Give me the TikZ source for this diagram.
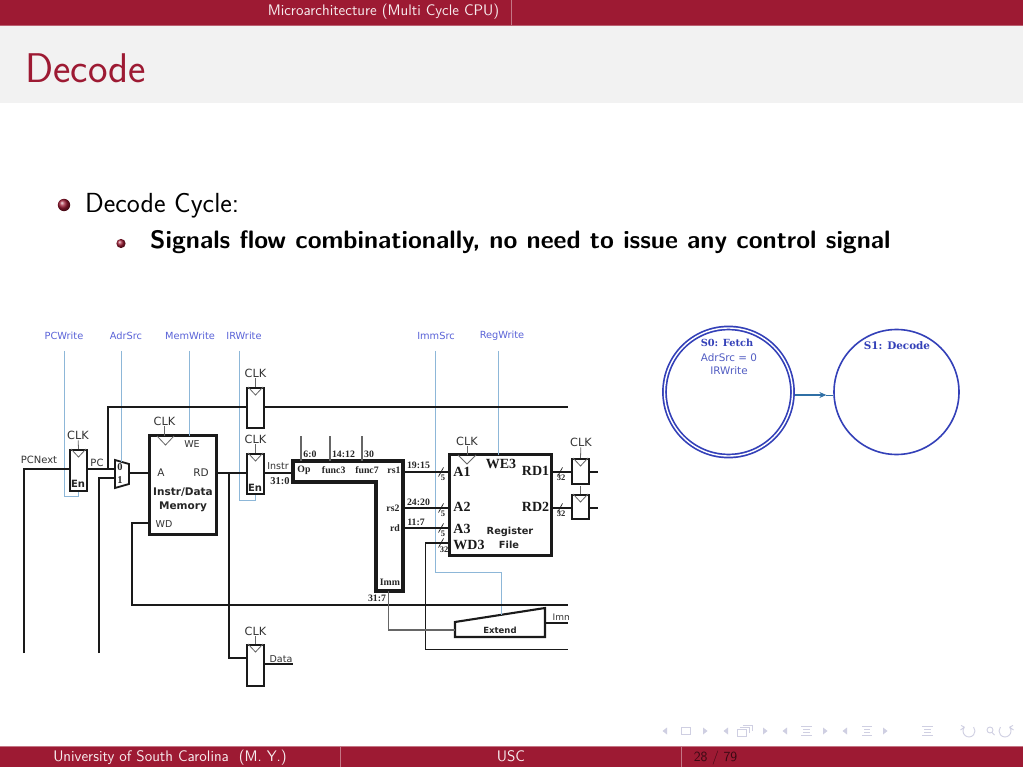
\documentclass[tikz,border=0pt]{standalone}
\usepackage{fontspec}
\usetikzlibrary{arrows.meta,calc}
\newfontfamily\djv{DejaVu Sans}
\newfontfamily\djs{DejaVu Serif}
\newfontfamily\lbs{Liberation Serif}
\definecolor{crim}{HTML}{9D1A33}
\definecolor{band}{HTML}{F2F2F2}
\definecolor{wire}{HTML}{1A1A1A}
\definecolor{ctl}{HTML}{8DB7D8}
\definecolor{ctltxt}{HTML}{5A63D8}
\definecolor{fsm}{HTML}{3340B8}
\definecolor{arrowc}{HTML}{2F6FA5}
\definecolor{nav}{HTML}{CFCFE2}
\definecolor{graywire}{HTML}{666666}
\newcommand{\fs}[1]{\fontsize{#1}{#1}\selectfont}
\tikzset{
 x=1pt,y=-1pt,
 wirel/.style={draw=wire,line width=1.8pt,line join=miter},
 thinw/.style={draw=graywire,line width=1.3pt},
 ctrl/.style={draw=ctl,line width=1pt},
 box/.style={draw=wire,line width=2.6pt,fill=white,inner sep=0pt},
 regbox/.style={box,line width=2pt,minimum width=17pt},
 tri/.style={draw=graywire,line width=.8pt},
 sans/.style={font=\djv\fs{10},text=black!80,inner sep=.5pt},
 clk/.style={font=\djv\fs{11.3},text=black!80,inner sep=1pt},
 ctlname/.style={font=\djv\fs{9.8},text=ctltxt,inner sep=1pt},
 srf/.style={font=\lbs\bfseries\fs{10.5},text=black!85,inner sep=0pt},
 srfs/.style={font=\lbs\bfseries\fs{9.8},text=black!85,inner sep=0pt},
 srfb/.style={font=\lbs\bfseries\fs{14},text=black!90,inner sep=0pt},
 bw/.style={font=\djv\bfseries\fs{10},text=black!85,inner sep=0pt,align=center},
 busn/.style={font=\lbs\bfseries\fs{8.5},text=black!85,inner sep=0pt},
 bar/.style={font=\sffamily\fs{15.3},text=white!92!crim,inner sep=0pt},
 navt/.style={fill=nav,draw=none},
 navl/.style={draw=nav,line width=.9pt},
}
\newcommand{\regtri}[1]{\draw[tri] ([xshift=2pt]#1.north west) -- ([yshift=-8pt]#1.north) -- ([xshift=-2pt]#1.north east);}
\newcommand{\navtl}[1]{\fill[navt] (#1-2.5,731) -- (#1+2,727.5) -- (#1+2,734.5) -- cycle;}
\newcommand{\navtr}[1]{\fill[navt] (#1+2.5,731) -- (#1-2,727.5) -- (#1-2,734.5) -- cycle;}
\newcommand{\navlines}[2]{\draw[navl] (#1,726.5) -- (#2,726.5) (#1+2,729.5) -- (#2-2,729.5) (#1+2,732) -- (#2-2,732) (#1,735) -- (#2,735);}
\begin{document}
\begin{tikzpicture}
\useasboundingbox (0,0) rectangle (1023,767);
% ---- slide frame
\fill[white] (0,0) rectangle (1023,767);
\fill[band] (0,25) rectangle (1023,103);
\fill[crim] (0,0) rectangle (1023,25);
\draw[crim!70!white,line width=.6pt] (0,25) -- (1023,25);
\draw[crim!60!white,line width=.6pt] (511.5,0) -- (511.5,25);
\node[bar,anchor=base] (sect) at (383.5,16) {Microarchitecture (Multi Cycle CPU)};
\node[font=\sffamily\fs{41.5},text=crim,anchor=base west,inner sep=0pt] (title) at (25,83) {Decode};
\fill[crim] (0,746) rectangle (1023,767);
\draw[crim!60!white,line width=.6pt] (0,746) -- (1023,746);
\draw[crim!60!white,line width=.6pt] (340,746) -- (340,767) (681,746) -- (681,767);
\node[bar,anchor=base] (foot1) at (170,761) {University of South Carolina\ \ (M. Y.)};
\node[bar,anchor=base] (foot2) at (511,761) {USC};
\node[bar,anchor=base,text=crim!35!black,font=\sffamily\fs{14}] (foot3) at (715.5,761) {28 / 79};
% ---- bullets
\shade[ball color=crim] (64,205) circle (6.2);
\shade[ball color=crim] (121,243.5) circle (4.6);
\node[font=\sffamily\fs{27.6},anchor=base west,inner sep=0pt] (b1) at (85,213) {Decode Cycle:};
\node[font=\sffamily\bfseries\fs{25.2},anchor=base west,inner sep=0pt] (b2) at (150,249) {Signals flow combinationally, no need to issue any control signal};
% ---- nav symbols
\navtl{665}\navtr{705}\navtl{726}\navtr{765}\navtl{785}\navtr{825}\navtl{845}\navtr{885}
\draw[navl] (681,727.5) rectangle (690,734.5);
\draw[navl] (737,729) rectangle (746,736) (740,727) -- (749,727) -- (749,733) (743,725) -- (752,725) -- (752,731);
\navlines{801}{812}\navlines{862}{872}\navlines{922}{933}
\draw[navl] (964.4,727.1) arc[start angle=140,end angle=400,radius=6pt] (964.4,727.1) -- (961,725.5) (964.4,727.1) -- (960.5,730);
\draw[navl] (990,730) circle[radius=3pt] (992,732.5) -- (994.5,735);
\draw[navl] (1009.6,727.1) arc[start angle=40,end angle=-220,radius=6pt] (1009.6,727.1) -- (1013,725.5) (1009.6,727.1) -- (1013.5,730);
% ---- control labels
\node[ctlname] (pcw) at (64,336) {PCWrite};
\node[ctlname] (adr) at (126,336) {AdrSrc};
\node[ctlname] (mew) at (190,336) {MemWrite};
\node[ctlname] (irw) at (244,336) {IRWrite};
\node[ctlname] (ims) at (436,336) {ImmSrc};
\node[ctlname] (rgw) at (502,336) {RegWrite};
\coordinate (pcwtop) at (64,351); \coordinate (adrtop) at (121,351); \coordinate (mewtop) at (189,351);
\coordinate (irwtop) at (239,351); \coordinate (imstop) at (435.5,351); \coordinate (rgwtop) at (498.5,351);
% ---- components
\node[regbox,minimum height=41pt] (pcreg) at (78.5,470.5) {};
\node[regbox,minimum height=40pt] (oldpc) at (255.5,408) {};
\node[regbox,minimum height=40pt] (irreg) at (255.5,474) {};
\node[regbox,minimum height=41pt] (dreg) at (255.5,665.5) {};
\node[box,minimum width=67pt,minimum height=99pt] (mem) at (183,485) {};
\node[box,minimum width=102pt,minimum height=101pt] (rf) at (500.5,505) {};
\node[regbox,minimum height=25pt] (r1) at (580.5,471.5) {};
\node[regbox,minimum height=24pt] (r2) at (580.5,507) {};
\filldraw[box,line width=1.8pt] (115,460) coordinate (muxa) -- (129,464) -- (129,484) coordinate (muxb) -- (115,488) coordinate (muxc) -- cycle;
\coordinate (muxout) at (129,473); \coordinate (mux0) at (115,469); \coordinate (mux1) at (115,478);
\draw[draw=wire,line width=3.1pt,line join=miter] (293,461) coordinate (dectl) -- (403,461) -- (403,591) coordinate (decbr) -- (376,591) coordinate (decbl) -- (376,482) -- (293,482) -- cycle;
\filldraw[box,line width=2.1pt] (455,622) coordinate (ext1) -- (545,608) coordinate (ext2) -- (545,637) coordinate (ext3) -- (455,637) coordinate (ext4) -- cycle;
\regtri{pcreg}\regtri{oldpc}\regtri{irreg}\regtri{dreg}\regtri{r1}\regtri{r2}
\draw[tri] (157,436) -- (165.5,445) -- (174,436);
\draw[tri] (458,455) -- (467,464) -- (476,455);
% ---- clock labels
\node[clk] (c1) at (78,435) {CLK};
\node[clk] (c2) at (255.5,373) {CLK};
\node[clk] (c3) at (255.5,439) {CLK};
\node[clk] (c4) at (255.5,631) {CLK};
\node[clk] (c5) at (164.5,421) {CLK};
\node[clk] (c6) at (467,441) {CLK};
\node[clk] (c7) at (581,442) {CLK};
\draw[tri] (c1) -- (pcreg.north); \draw[tri] (c2) -- (oldpc.north); \draw[tri] (c3) -- (irreg.north); \draw[tri] (c4) -- (dreg.north);
\draw[tri] (c5) -- (164.5,436); \draw[tri] (c6) -- (467,455); \draw[tri] (c7) -- (r1.north);
\draw[tri] (r2.north) -- ++(0,-8);
% ---- control wires
\draw[ctrl] (pcwtop) -- (64,496) -- (78.5,496) -- (pcreg.south);
\draw[ctrl] (adrtop) -- (121,461.5);
\draw[ctrl] (mewtop) -- (189,436);
\draw[ctrl] (irwtop) -- (239,500) -- (255.5,500) -- (irreg.south);
\draw[ctrl] (rgwtop) -- (498.5,455);
\draw[ctrl] (imstop) -- (435.5,572) -- (501,572) -- (501,615);
% ---- data wires
\coordinate (pcnextd) at (70,469);
\coordinate (l1) at (24,653); \coordinate (l2) at (99,653);
\draw[wirel] (l1) -- (24,469) -- (pcnextd);
\draw[wirel] (87,469) -- (mux0);
\draw[wirel] (108,469) -- (108,407) -- (247,407);
\draw[wirel] (263.5,407) -- (568,407);
\draw[wirel] (l2) -- (99,478) -- (mux1);
\draw[wirel] (muxout) -- (150,473);
\draw[wirel] (216,473) -- (247.5,473);
\draw[wirel] (229,473) -- (229,658) -- (247.5,658);
\draw[wirel] (263.5,664) -- (293,664);
\draw[wirel] (263.5,473) -- (293,473);
\draw[wirel] (150,523) -- (132,523) -- (132,605) -- (568,605);
\draw[wirel] (403,472) -- (450,472);
\draw[wirel] (403,508) -- (450,508);
\draw[wirel] (403,528) -- (450,528);
\draw[wirel] (450,543) -- (425.5,543) -- (425.5,649.5) -- (568,649.5);
\draw[wirel] (551,472) -- (572.5,472);
\draw[wirel] (551,508) -- (572.5,508);
\draw[wirel] (588.5,472) -- (598,472);
\draw[wirel] (588.5,508) -- (598,508);
\draw[wirel] (ext2 |- 0,623) -- (568,623);
\draw[thinw] (301,436) -- (301,461);
\draw[thinw] (330,436) -- (330,461);
\draw[thinw] (362,436) -- (362,461);
\draw[thinw] (388.5,591) -- (388.5,630) -- (455,630);
% ---- slashes
\foreach \px/\py in {441/472,441/508,441/528,441/543,560/472,560/508}
  \draw[draw=wire,line width=.7pt] (\px-2.5,\py+4.5) -- (\px+2.5,\py-4.5);
\node[busn] (w1) at (443,477.5) {5};
\node[busn] (w2) at (443,514) {5};
\node[busn] (w3) at (443,534) {5};
\node[busn] (w4) at (444,550) {32};
\node[busn] (w5) at (561,478) {32};
\node[busn] (w6) at (561,514) {32};
% ---- text labels
\node[sans] (t1) at (39,460) {PCNext};
\node[sans] (t2) at (97,463) {PC};
\node[srf] (t3) at (120,467) {0};
\node[srf] (t4) at (120,480) {1};
\node[bw] (t5) at (78,484) {En};
\node[bw] (t6) at (255,488) {En};
\node[sans,font=\djv\fs{9.5}] (t7) at (192,444) {WE};
\node[sans,font=\djv\fs{10.5}] (t8) at (161,473) {A};
\node[sans,font=\djv\fs{10.5}] (t9) at (201,473) {RD};
\node[bw,font=\djv\bfseries\fs{10.5}] (t10) at (183,500) {Instr/Data\\[3pt]Memory};
\node[sans,font=\djv\fs{9.5}] (t11) at (164,524) {WD};
\node[sans,font=\djv\fs{9.5}] (t12) at (278,466) {Instr};
\node[srf] (t13) at (280,481) {31:0};
\node[sans,font=\djv\fs{9.5}] (t14) at (281,659) {Data};
\node[srfs] (t15) at (310,454.5) {6:0};
\node[srfs] (t16) at (343.5,454.5) {14:12};
\node[srfs] (t17) at (369,454.5) {30};
\node[srfs] (t18) at (304,470) {Op};
\node[srfs] (t19) at (333.7,470) {func3};
\node[srfs] (t20) at (367,470) {func7};
\node[srfs] (t21) at (394,470.5) {rs1};
\node[srfs] (t22) at (393,508) {rs2};
\node[srfs] (t23) at (395,528) {rd};
\node[srfs] (t24) at (390,582) {Imm};
\node[srfs] (t25) at (377,598) {31:7};
\node[srfs] (t26) at (418.5,465) {19:15};
\node[srfs] (t27) at (418.5,502) {24:20};
\node[srfs] (t28) at (416,522.5) {11:7};
\node[srfb] (t29) at (462,472) {A1};
\node[srfb] (t30) at (501,464) {WE3};
\node[srfb] (t31) at (535.5,471) {RD1};
\node[srfb] (t32) at (462,507) {A2};
\node[srfb] (t33) at (535.5,507) {RD2};
\node[srfb] (t34) at (462,529) {A3};
\node[srfb] (t35) at (469,545) {WD3};
\node[bw,font=\djv\bfseries\fs{9.8}] (t36) at (510,532) {Register};
\node[bw,font=\djv\bfseries\fs{9.8}] (t37) at (509,545) {File};
\node[bw,font=\djv\bfseries\fs{8.5}] (t38) at (500,630) {Extend};
\begin{scope}
\clip (540,600) rectangle (568,630);
\node[sans,font=\djv\fs{9},anchor=west] (t39) at (552,617) {Imm};
\end{scope}
% ---- state machine
\node[circle,draw=fsm,line width=1.7pt,double=white,double distance=1.4pt,minimum size=128pt,inner sep=0pt] (s0) at (728.5,392) {};
\node[circle,draw=fsm,line width=1.6pt,minimum size=125pt,inner sep=0pt] (s1) at (896.5,392) {};
\draw[draw=arrowc,line width=1.4pt,-{Stealth[length=7pt,width=6pt]}] ([yshift=-3pt]s0.east) ++(2,0) -- ++(31,0) coordinate (tipa);
\draw[draw=arrowc,line width=1pt] (tipa) -- ([yshift=-3pt]s1.west);
\node[font=\djs\bfseries\fs{9.8},text=fsm,inner sep=0pt] (n1) at (727,343) {S0: Fetch};
\node[font=\djv\fs{10.4},text=fsm!85!white,inner sep=0pt] (n2) at (729,358) {AdrSrc = 0};
\node[font=\djv\fs{10.4},text=fsm!85!white,inner sep=0pt] (n3) at (729,371) {IRWrite};
\node[font=\djs\bfseries\fs{10.4},text=fsm,inner sep=0pt] (n4) at (897,346) {S1: Decode};
\end{tikzpicture}
\end{document}
